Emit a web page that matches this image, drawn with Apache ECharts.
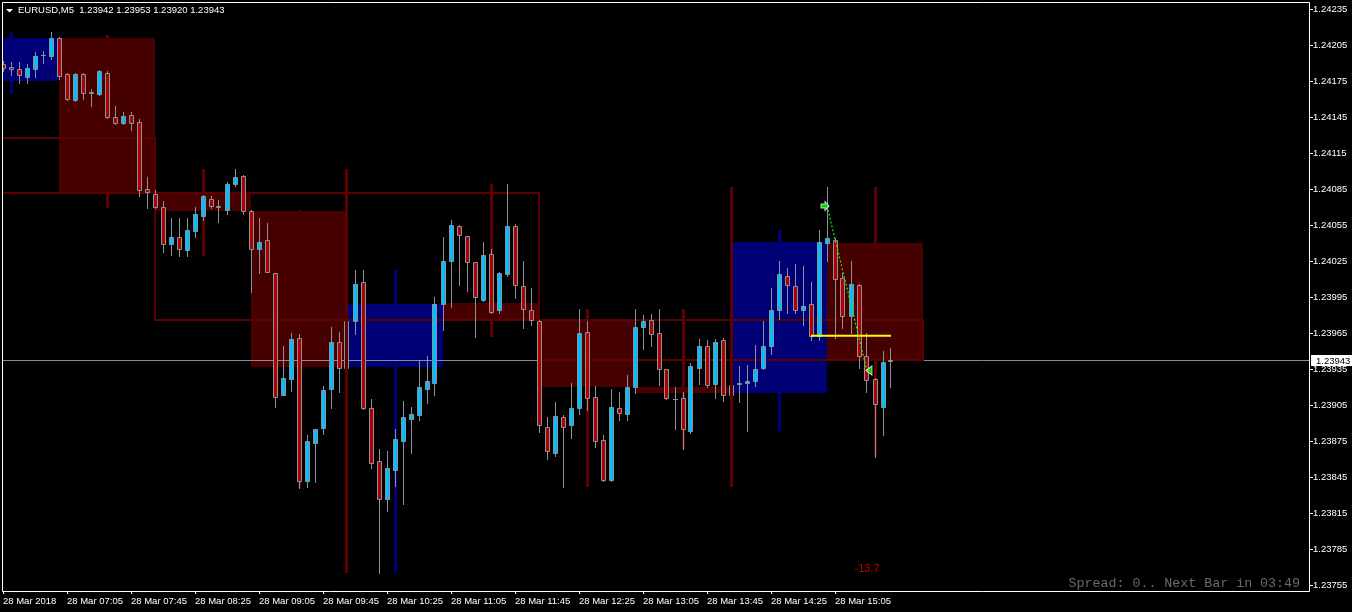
<!DOCTYPE html>
<html><head><meta charset="utf-8">
<script src="https://cdn.jsdelivr.net/npm/echarts@6/dist/echarts.min.js"></script>
<style>html,body{margin:0;padding:0;background:#000;}#chart{width:1352px;height:612px;}</style>
</head><body><div id="chart"></div>
<script>
// ---------- DATA ----------
const symbolName = 'EURUSD,M5';
const tickLabels = ['28 Mar 2018','28 Mar 07:05','28 Mar 07:45','28 Mar 08:25','28 Mar 09:05','28 Mar 09:45','28 Mar 10:25','28 Mar 11:05','28 Mar 11:45','28 Mar 12:25','28 Mar 13:05','28 Mar 13:45','28 Mar 14:25','28 Mar 15:05'];
const priceMin = 1.23755, priceMax = 1.24235, priceStep = 0.0003;

const opens = [1.24189,1.24187,1.24185,1.24178,1.24185,1.24197,1.24196,1.24211,1.24181,1.24159,
1.24181,1.24166,1.24164,1.24182,1.24145,1.24140,1.24147,1.24141,1.24085,1.24081,
1.24070,1.24039,1.24045,1.24034,1.24050,1.24063,1.24077,1.24071,1.24068,1.24089,
1.24096,1.24067,1.24035,1.24043,1.24015,1.23914,1.23927,1.23961,1.23842,1.23874,
1.23886,1.23919,1.23958,1.23936,1.23975,1.24008,1.23903,1.23859,1.23827,1.23851,
1.23875,1.23894,1.23897,1.23919,1.23924,1.23989,1.24025,1.24054,1.24046,1.24024,
1.23993,1.24031,1.23984,1.24014,1.24054,1.24004,1.23984,1.23975,1.23887,1.23865,
1.23895,1.23889,1.23903,1.23966,1.23912,1.23876,1.23843,1.23903,1.23898,1.23920,
1.23970,1.23976,1.23965,1.23935,1.23910,1.23911,1.23884,1.23936,1.23954,1.23923,
1.23959,1.23914,1.23923,1.23924,1.23925,1.23936,1.23954,1.23984,1.24013,1.24004,
1.23984,1.23989,1.23963,1.24040,1.24043,1.24011,1.23979,1.24005,1.23946,1.23927,
1.23904,1.23942];
const highs = [1.24192,1.24191,1.24191,1.24189,1.24199,1.24200,1.24216,1.24212,1.24182,1.24182,
1.24182,1.24168,1.24184,1.24183,1.24154,1.24149,1.24149,1.24143,1.24095,1.24084,
1.24075,1.24061,1.24061,1.24061,1.24070,1.24080,1.24079,1.24076,1.24091,1.24102,
1.24097,1.24068,1.24061,1.24057,1.24015,1.23954,1.23965,1.23964,1.23880,1.23885,
1.23921,1.23970,1.23966,1.23975,1.24018,1.24018,1.23910,1.23869,1.23867,1.23885,
1.23909,1.23904,1.23942,1.23946,1.23995,1.24045,1.24059,1.24055,1.24046,1.24024,
1.24041,1.24035,1.24016,1.24089,1.24056,1.24025,1.24003,1.23976,1.23895,1.23908,
1.23897,1.23924,1.23985,1.23975,1.23921,1.23880,1.23919,1.23916,1.23930,1.23985,
1.23980,1.23981,1.23985,1.23935,1.23920,1.23916,1.23940,1.23960,1.23959,1.23960,
1.23961,1.23924,1.23938,1.23939,1.23955,1.23975,1.24003,1.24025,1.24019,1.24023,
1.24021,1.24008,1.24051,1.24087,1.24044,1.24015,1.24025,1.24006,1.23965,1.23928,
1.23950,1.23953];
const lows = [1.24183,1.24180,1.24173,1.24173,1.24178,1.24190,1.24193,1.24177,1.24159,1.24158,
1.24160,1.24154,1.24163,1.24144,1.24139,1.24139,1.24134,1.24079,1.24069,1.24069,
1.24033,1.24030,1.24029,1.24029,1.24045,1.24059,1.24069,1.24058,1.24064,1.24088,
1.24064,1.23999,1.24015,1.24016,1.23904,1.23914,1.23917,1.23836,1.23837,1.23841,
1.23881,1.23903,1.23916,1.23935,1.23964,1.23902,1.23853,1.23765,1.23817,1.23838,
1.23823,1.23865,1.23893,1.23907,1.23914,1.23968,1.23987,1.24005,1.24000,1.23962,
1.23992,1.23982,1.23982,1.24013,1.23994,1.23969,1.23972,1.23883,1.23860,1.23863,
1.23837,1.23878,1.23898,1.23901,1.23870,1.23842,1.23842,1.23893,1.23893,1.23915,
1.23952,1.23954,1.23922,1.23910,1.23885,1.23869,1.23882,1.23923,1.23920,1.23911,
1.23909,1.23912,1.23908,1.23884,1.23921,1.23935,1.23948,1.23977,1.23982,1.23982,
1.23972,1.23959,1.23959,1.24025,1.23961,1.23969,1.23965,1.23936,1.23916,1.23862,
1.23880,1.23920];
const closes = [1.24186,1.24185,1.24180,1.24186,1.24196,1.24197,1.24211,1.24179,1.24160,1.24181,
1.24165,1.24165,1.24183,1.24145,1.24140,1.24146,1.24140,1.24084,1.24083,1.24070,
1.24039,1.24045,1.24035,1.24051,1.24064,1.24079,1.24071,1.24070,1.24089,1.24095,
1.24067,1.24035,1.24041,1.24016,1.23912,1.23928,1.23960,1.23842,1.23875,1.23885,
1.23918,1.23958,1.23936,1.23975,1.24006,1.23903,1.23857,1.23827,1.23853,1.23877,
1.23895,1.23898,1.23920,1.23925,1.23989,1.24025,1.24055,1.24047,1.24024,1.23995,
1.24030,1.23983,1.24015,1.24054,1.24005,1.23985,1.23976,1.23889,1.23867,1.23896,
1.23887,1.23903,1.23965,1.23911,1.23875,1.23843,1.23904,1.23899,1.23920,1.23970,
1.23975,1.23964,1.23935,1.23911,1.23910,1.23885,1.23938,1.23954,1.23922,1.23958,
1.23914,1.23922,1.23924,1.23925,1.23935,1.23954,1.23984,1.24014,1.24005,1.23984,
1.23988,1.23963,1.24041,1.24044,1.24010,1.23979,1.24006,1.23946,1.23926,1.23906,
1.23941,1.23943];

// hourly (H1) candles drawn as boxes; start = bar index of the hour's first bar
const h1Start = [-5, 7, 19, 31, 43, 55, 67, 79, 91, 103];
const h1Open  = [1.24175,1.24211,1.24082,1.24067,1.23937,1.23990,1.23976,1.23920,1.23915,1.24040];
const h1High  = [1.24216,1.24213,1.24102,1.24068,1.24018,1.24089,1.23985,1.23985,1.24051,1.24087];
const h1Low   = [1.24164,1.24069,1.24029,1.23836,1.23765,1.23962,1.23837,1.23869,1.23884,1.23863];
const h1Close = [1.24211,1.24083,1.24067,1.23937,1.23989,1.23976,1.23920,1.23915,1.24041,1.23943];
const h1Bars = 12;

// four-hour (H4) candles drawn as outlines
const h4Start = [-29, 19, 67];
const h4Open  = [1.24128,1.24082,1.23976];
const h4High  = [1.24230,1.24102,1.24087];
const h4Low   = [1.24069,1.23765,1.23837];
const h4Close = [1.24082,1.23976,1.23943];
const h4Bars = 48;

// trade
const tradeBars = [103, 108];
const tradePrices = [1.24071, 1.23934];
const tradeResult = '-13.7';
const resultPos = [108, 1.23769];
const levelBars = [101, 111];
const levelPrice = 1.23963;
const spreadText = 'Spread: 0.. Next Bar in 03:49';

// ---------- STYLE ----------
const BULL = '#00BFFF', BEAR = '#B00000', WICK = '#8A929B';
const BOX_DN = '#460000', BOX_UP = '#000076', WICK_DN = '#5C0000', WICK_UP = '#00007E';
const FONT = '"Liberation Sans", Arial, sans-serif';

const nCats = 164;
const cats = Array.from({length: nCats}, (_, i) => String(i));
const candleData = opens.map((o, i) => [i, o, highs[i], lows[i], closes[i]]);
const h1Data = h1Start.map((s, i) => [s, h1Open[i], h1High[i], h1Low[i], h1Close[i]]);
const h4Data = h4Start.map((s, i) => [s, h4Open[i], h4High[i], h4Low[i], h4Close[i]]);
const last = closes.length - 1;

const px = v => Math.floor(v) + 0.5;

function candleItem(params, api) {
  const i = api.value(0), o = api.value(1), h = api.value(2), l = api.value(3), c = api.value(4);
  const po = api.coord([i, o]), pc = api.coord([i, c]), ph = api.coord([i, h]), pl = api.coord([i, l]);
  const x = px(po[0]);
  const top = Math.round(Math.min(po[1], pc[1])) + 0.5;
  const bot = Math.round(Math.max(po[1], pc[1])) + 0.5;
  const ch = [{type: 'line', shape: {x1: x, y1: Math.round(ph[1]), x2: x, y2: Math.round(pl[1]) + 1},
    style: {stroke: WICK, lineWidth: 1}}];
  if (bot - top < 1) {
    ch.push({type: 'line', shape: {x1: x - 2.5, y1: top, x2: x + 2.5, y2: top}, style: {stroke: WICK, lineWidth: 1}});
  } else {
    ch.push({type: 'rect', shape: {x: x - 2, y: top, width: 4, height: bot - top},
      style: {fill: c > o ? BULL : BEAR, stroke: WICK, lineWidth: 1}});
  }
  return {type: 'group', children: ch};
}
function boxItem(n) {
  return function (params, api) {
    const s = api.value(0), o = api.value(1), c = api.value(4);
    const p1 = api.coord([s, Math.max(o, c)]), p2 = api.coord([s + n, Math.min(o, c)]);
    return {type: 'rect', shape: {x: p1[0], y: Math.round(p1[1]), width: p2[0] - p1[0], height: Math.round(p2[1]) - Math.round(p1[1])},
      style: {fill: c >= o ? BOX_UP : BOX_DN}};
  };
}
function outlineItem(n) {
  return function (params, api) {
    const s = api.value(0), o = api.value(1), c = api.value(4);
    const p1 = api.coord([s, Math.max(o, c)]), p2 = api.coord([s + n, Math.min(o, c)]);
    return {type: 'rect', shape: {x: Math.round(p1[0]), y: Math.round(p1[1]), width: Math.round(p2[0] - p1[0]), height: Math.round(p2[1] - p1[1])},
      style: {fill: 'none', stroke: WICK_DN, lineWidth: 2}};
  };
}
function wickItem(n) {
  return function (params, api) {
    const s = api.value(0), o = api.value(1), h = api.value(2), l = api.value(3), c = api.value(4);
    const ph = api.coord([s + n / 2, h]), pl = api.coord([s + n / 2, l]);
    const x = px(ph[0]);
    return {type: 'line', shape: {x1: x, y1: Math.round(ph[1]), x2: x, y2: Math.round(pl[1])},
      style: {stroke: c >= o ? WICK_UP : WICK_DN, lineWidth: 3}};
  };
}
function bidItem(params, api) {
  const p = api.coord([api.value(0), api.value(1)]);
  const cs = params.coordSys;
  const y = Math.round(p[1]) + 0.5;
  const xr = cs.x + cs.width;
  return {type: 'group', children: [
    {type: 'line', shape: {x1: cs.x, y1: y, x2: xr + 2, y2: y}, style: {stroke: '#8c8c8c', lineWidth: 1}},
    {type: 'rect', shape: {x: xr + 4, y: y - 5.5, width: 45, height: 11}, style: {fill: '#fff'}},
    {type: 'text', style: {x: xr + 9, y: y + 0.5, text: api.value(1).toFixed(5), fill: '#000', font: '9.5px ' + FONT, verticalAlign: 'middle'}}
  ]};
}

const tickFilter = (idx) => idx % 8 === 0 && idx / 8 < tickLabels.length;

const option = {
  backgroundColor: '#000',
  animation: false,
  grid: {left: 3, right: 45, top: 9, bottom: 26.5, containLabel: false},
  xAxis: {
    type: 'category', data: cats, boundaryGap: false, min: 0, max: nCats - 1, offset: 5.5,
    axisLine: {show: false},
    axisTick: {show: true, interval: tickFilter, length: 3, lineStyle: {color: '#fff'}},
    axisLabel: {interval: tickFilter, color: '#fff', fontFamily: FONT, fontSize: 9.5, align: 'left', margin: 5,
      formatter: v => tickLabels[Number(v) / 8] || ''},
    splitLine: {show: false}
  },
  yAxis: {
    type: 'value', position: 'right', min: priceMin, max: priceMax, interval: priceStep, offset: 2, scale: true,
    axisLine: {show: false},
    axisTick: {show: true, length: 4, lineStyle: {color: '#fff'}},
    axisLabel: {color: '#fff', fontFamily: FONT, fontSize: 9.5, margin: 4, formatter: v => v.toFixed(5)},
    splitLine: {show: false}
  },
  graphic: [
    {type: 'rect', silent: true, z: 100, shape: {x: 2.5, y: 2.5, width: 1307, height: 589}, style: {fill: 'none', stroke: '#fff', lineWidth: 1}},
    {type: 'polygon', silent: true, z: 100, shape: {points: [[6, 9], [13, 9], [9.5, 12.5]]}, style: {fill: '#fff'}},
    {type: 'text', silent: true, z: 100, style: {x: 18, y: 10.5, text: symbolName + '  ' + [opens[last], highs[last], lows[last], closes[last]].map(v => v.toFixed(5)).join(' '),
      fill: '#fff', font: '9.5px ' + FONT, verticalAlign: 'middle'}},
    {type: 'text', silent: true, z: 100, style: {x: 1300, y: 583, text: spreadText, fill: '#6a6a6a', font: '13.3px "Liberation Mono", monospace', align: 'right', verticalAlign: 'middle'}}
  ],
  series: [
    {type: 'custom', name: 'h1wick', z: 1, clip: true, data: h1Data, renderItem: wickItem(h1Bars), encode: {x: 0, y: [1, 2, 3, 4]}},
    {type: 'custom', name: 'h1box', z: 1, clip: true, data: h1Data, renderItem: boxItem(h1Bars), encode: {x: 0, y: [1, 2, 3, 4]}},
    {type: 'custom', name: 'bid', z: 1, clip: false, data: [[last, closes[last]]], renderItem: bidItem, encode: {x: 0, y: 1}},
    {type: 'custom', name: 'h4box', z: 2, clip: true, data: h4Data, renderItem: outlineItem(h4Bars), encode: {x: 0, y: [1, 2, 3, 4]}},
    {type: 'custom', name: 'candles', z: 3, clip: true, data: candleData, renderItem: candleItem, encode: {x: 0, y: [1, 2, 3, 4]}},
    {type: 'custom', name: 'h4wick', z: 4, clip: true, data: h4Data, renderItem: wickItem(h4Bars), encode: {x: 0, y: [1, 2, 3, 4]}},
    {type: 'line', name: 'level', z: 5, symbol: 'none', data: levelBars.map(b => [b, levelPrice]), lineStyle: {color: '#FFFF00', width: 2}},
    {type: 'line', name: 'trade', z: 5, symbol: 'none', data: tradeBars.map((b, i) => [b, tradePrices[i]]), lineStyle: {color: '#00FF00', width: 1.2, type: [2, 2]}},
    {type: 'scatter', name: 'entry', z: 6, data: [[tradeBars[0], tradePrices[0]]],
      symbol: 'path://M0,2.5L4,2.5L4,0L8,4.5L4,9L4,6.5L0,6.5Z', symbolSize: [8, 9], symbolOffset: [-2, 0],
      itemStyle: {color: '#00FF00', borderColor: '#fff', borderWidth: 1}},
    {type: 'scatter', name: 'exit', z: 6, data: [[tradeBars[1], tradePrices[1]]],
      symbol: 'path://M6,0L6,9L0,4.5Z', symbolSize: [6, 9], symbolOffset: [2, 0],
      itemStyle: {color: '#00FF00', borderColor: '#fff', borderWidth: 1}},
    {type: 'scatter', name: 'result', z: 6, data: [resultPos], symbolSize: 0,
      label: {show: true, position: 'inside', formatter: tradeResult, color: '#FF0000', fontFamily: FONT, fontSize: 11}}
  ]
};
const chart = echarts.init(document.getElementById('chart'));
chart.setOption(option);
</script></body></html>
